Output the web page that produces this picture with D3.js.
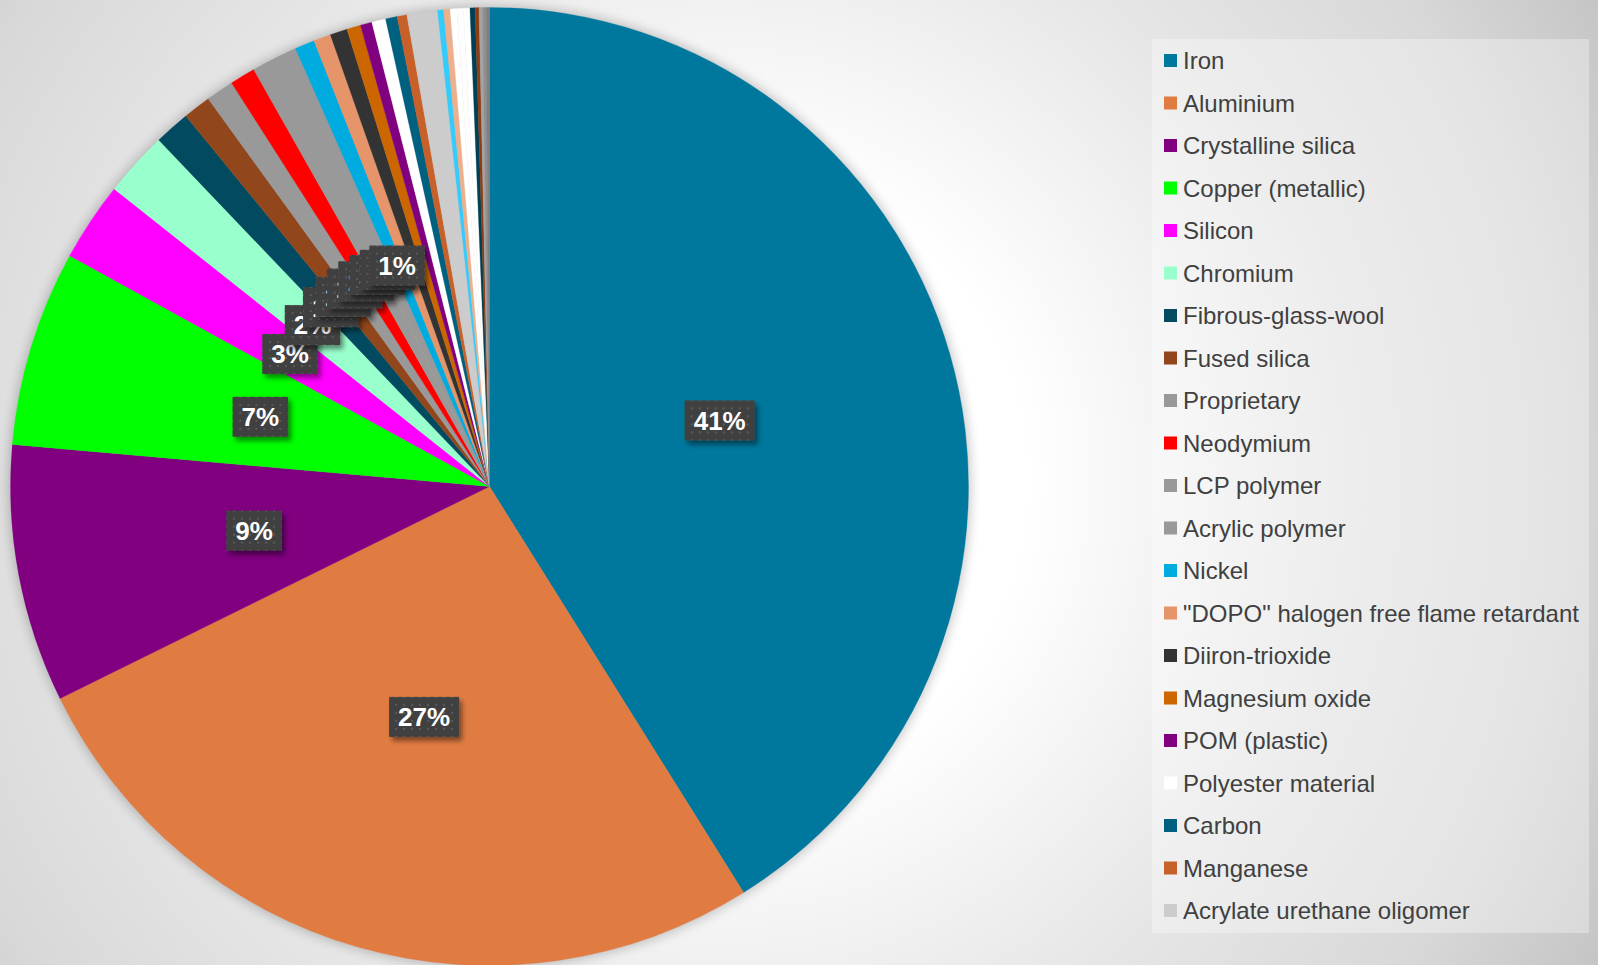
<!DOCTYPE html>
<html>
<head>
<meta charset="utf-8">
<script src="https://cdn.jsdelivr.net/npm/d3@7"></script>
<style>
  html, body { margin: 0; padding: 0; overflow: hidden; background: #fff; }
  svg { display: block; }
</style>
</head>
<body>
<svg id="chart" width="1598" height="965"></svg>
<script>
// Material composition (share of total mass, %)
const categories = [
  "Iron", "Aluminium", "Crystalline silica", "Copper (metallic)", "Silicon",
  "Chromium", "Fibrous-glass-wool", "Fused silica", "Proprietary", "Neodymium",
  "LCP polymer", "Acrylic polymer", "Nickel", "\"DOPO\" halogen free flame retardant",
  "Diiron-trioxide", "Magnesium oxide", "POM (plastic)", "Polyester material",
  "Carbon", "Manganese", "Acrylate urethane oligomer"
];
const shares = [
  41.1, 26.6, 8.7, 6.6, 2.67,
  2.2, 1.2, 0.94, 0.94, 0.86,
  0.83, 0.72, 0.67, 0.58,
  0.58, 0.47, 0.39, 0.47,
  0.39, 0.33, 1.03
];
const colors = [
  "#00779c", "#e07c42", "#800080", "#00ff00", "#ff00ff",
  "#99ffcc", "#024a5f", "#91471b", "#999999", "#ff0000",
  "#999999", "#999999", "#00abe0", "#e6956a",
  "#333333", "#cc6600", "#800080", "#ffffff",
  "#00607f", "#c8602a", "#cccccc"
];
// Trace constituents that do not fit in the legend
const minorNames = ["Trace 1", "Trace 2", "Trace 3", "Trace 4", "Trace 5", "Trace 6", "Trace 7", "Trace 8", "Trace 9", "Trace 10"];
const minorShares = [0.2, 0.22, 0.22, 0.22, 0.22, 0.17, 0.13, 0.12, 0.12, 0.11];
const minorColors = ["#33ccff", "#eeb08c", "#ffffff", "#fdfdfd", "#ffffff", "#003f55", "#8b3e14", "#a3a3a3", "#8f8f8f", "#7f7f7f"];
// Only the larger slices carry a percentage label
const labelledCount = 13;

const W = 1598, H = 965;
const cx = 489.5, cy = 486.5, R = 479;

const slices = categories.map((name, i) => ({ name, value: shares[i], color: colors[i], labelled: i < labelledCount }))
  .concat(minorNames.map((name, i) => ({ name, value: minorShares[i], color: minorColors[i], labelled: false })));
const total = d3.sum(slices, d => d.value);

const svg = d3.select("#chart");
const defs = svg.append("defs");

// Chart-area background: soft radial grey fade
const bg = defs.append("radialGradient").attr("id", "bgGrad")
  .attr("gradientUnits", "userSpaceOnUse")
  .attr("cx", 720).attr("cy", 480).attr("r", 1020);
[[0, "#ffffff"], [0.3, "#ffffff"], [0.6, "#e6e6e6"], [0.82, "#d8d8d8"], [1, "#c3c3c3"]]
  .forEach(([o, c]) => bg.append("stop").attr("offset", o).attr("stop-color", c));

// Soft glow behind the pie
const pieShadow = defs.append("filter").attr("id", "pieShadow")
  .attr("x", "-10%").attr("y", "-10%").attr("width", "120%").attr("height", "120%");
pieShadow.append("feGaussianBlur").attr("in", "SourceGraphic").attr("stdDeviation", 6);

// Drop shadow under the label boxes
const boxShadow = defs.append("filter").attr("id", "boxShadow")
  .attr("x", "-20%").attr("y", "-20%").attr("width", "150%").attr("height", "160%");
boxShadow.append("feDropShadow").attr("dx", 3).attr("dy", 4).attr("stdDeviation", 2.5)
  .attr("flood-color", "#000").attr("flood-opacity", 0.45);

// Dotted fill for the label boxes
const dots = defs.append("pattern").attr("id", "dotFill")
  .attr("patternUnits", "userSpaceOnUse").attr("width", 8).attr("height", 8);
dots.append("rect").attr("width", 8).attr("height", 8).attr("fill", "#404040");
dots.append("rect").attr("x", 3).attr("y", 3).attr("width", 2).attr("height", 2).attr("fill", "#5a5a5a");

svg.append("rect").attr("width", W).attr("height", H).attr("fill", "url(#bgGrad)");

// Pie
const pie = d3.pie().sort(null).value(d => d.value);
const arcs = pie(slices);
const arc = d3.arc().innerRadius(0).outerRadius(R);

const g = svg.append("g").attr("transform", `translate(${cx},${cy})`);
g.append("circle").attr("r", R + 2).attr("fill", "#000").attr("opacity", 0.22)
  .attr("filter", "url(#pieShadow)");
g.selectAll("path.slice").data(arcs).join("path")
  .attr("class", "slice")
  .attr("d", arc)
  .attr("fill", d => d.data.color)
  .attr("stroke", d => d.data.color)
  .attr("stroke-width", 0.3);

// Percentage labels at half radius
const labelArc = d3.arc().innerRadius(0).outerRadius(R);
const fmt = v => Math.round(v / total * 100) + "%";
const labels = g.selectAll("g.lbl").data(arcs.filter(d => d.data.labelled)).join("g")
  .attr("class", "lbl")
  .attr("transform", d => `translate(${labelArc.centroid(d)})`);
labels.each(function (d) {
  const sel = d3.select(this);
  const rect = sel.append("rect").attr("fill", "url(#dotFill)").attr("filter", "url(#boxShadow)");
  const t = sel.append("text")
    .attr("text-anchor", "middle")
    .attr("dy", "0.36em")
    .attr("fill", "#ffffff")
    .attr("font-family", "'Liberation Sans', Arial, sans-serif")
    .attr("font-weight", "bold")
    .attr("font-size", 26)
    .text(fmt(d.data.value));
  const w = t.node().getComputedTextLength() + 18, h = 40;
  rect.attr("x", -w / 2).attr("y", -h / 2).attr("width", w).attr("height", h);
});

// Legend
const legendX = 1152, legendY = 39, legendW = 437, legendH = 894;
const legend = svg.append("g");
legend.append("rect").attr("x", legendX).attr("y", legendY)
  .attr("width", legendW).attr("height", legendH)
  .attr("fill", "#ffffff").attr("fill-opacity", 0.32);
const rowStep = 42.5, firstBaseline = 69;
const items = legend.selectAll("g.item").data(slices.slice(0, categories.length)).join("g")
  .attr("class", "item")
  .attr("transform", (d, i) => `translate(0,${firstBaseline + i * rowStep})`);
items.append("rect").attr("x", 1164).attr("y", -15).attr("width", 13).attr("height", 13)
  .attr("fill", d => d.color);
items.append("text").attr("x", 1183).attr("y", 0)
  .attr("font-family", "'Liberation Sans', Arial, sans-serif")
  .attr("font-size", 24).attr("fill", "#404040")
  .text(d => d.name);
</script>
</body>
</html>
